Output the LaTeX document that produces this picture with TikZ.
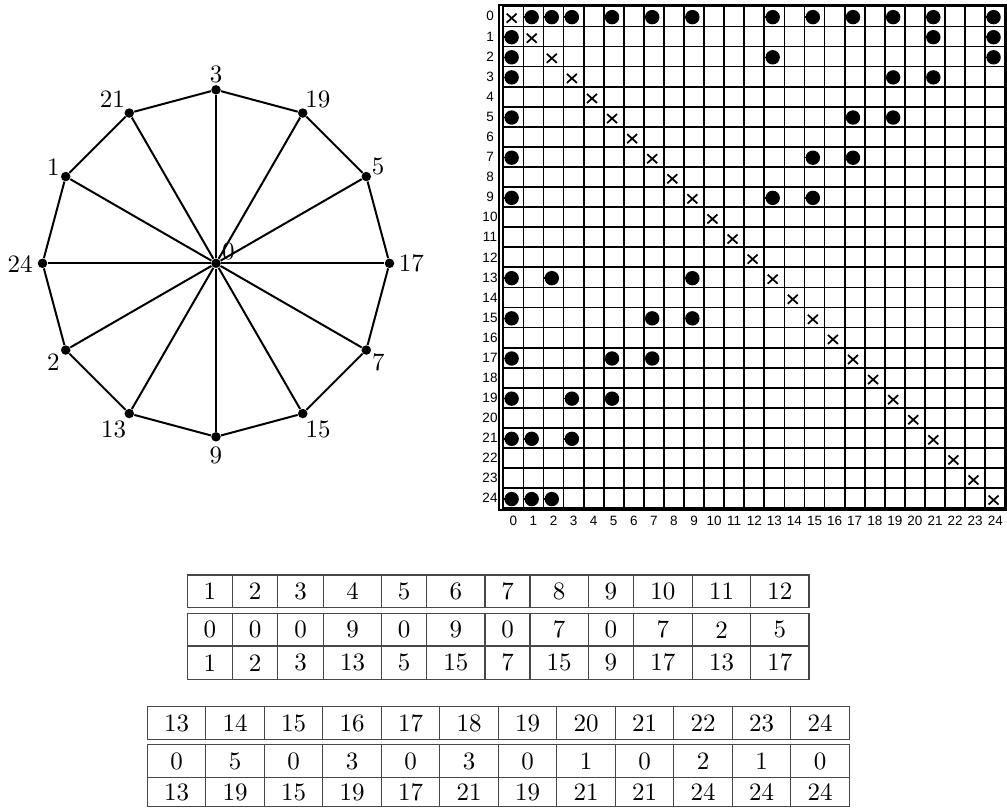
\documentclass[tikz,border=0pt]{standalone}
\usepackage{fontspec}
\newfontfamily\msans{Liberation Sans}
\begin{document}
\begin{tikzpicture}[x=0.4pt,y=-0.4pt,
  vtx/.style={circle,fill=black,inner sep=0pt,minimum size=3.8pt},
  edge/.style={line width=0.8pt},
  lbl/.style={inner sep=0pt,font=\fontsize{10}{12}\selectfont},
  gridline/.style={line width=0.7pt,line cap=rect},
  xmark/.style={line width=0.7pt},
  stub/.style={line width=0.6pt},
  mlab/.style={inner sep=0pt,font=\msans\fontsize{5.4}{6}\selectfont},
  tline/.style={draw=black!72,line width=0.55pt},
  tcell/.style={inner sep=0pt,font=\fontsize{10}{12}\selectfont}
]
\useasboundingbox (0,0) rectangle (1007,808);

% ---------------- graph ----------------
\node[vtx] (v0) at (216,263.3) {};
\foreach \n/\a in {3/90,19/60,5/30,17/0,7/-30,15/-60,9/-90,13/-120,2/-150,24/180,1/150,21/120}
  \node[vtx] (v\n) at ({216+173.5*cos(\a)},{263.3-173.5*sin(\a)}) {};
\foreach \n in {3,19,5,17,7,15,9,13,2,24,1,21}
  \draw[edge] (v0) -- (v\n);
\draw[edge] (v3) -- (v19) -- (v5) -- (v17) -- (v7) -- (v15) -- (v9) -- (v13) -- (v2) -- (v24) -- (v1) -- (v21) -- (v3);
\foreach \n/\px/\py in {3/216/74.2, 21/112.5/99, 19/317.8/99, 1/53.3/167.3, 5/378/166.8,
    24/20/263.8, 17/411.3/263.8, 0/228.3/251.7, 2/53.5/361.7, 7/378.3/362.5,
    13/113.5/429.7, 15/318/429.7, 9/215.8/455}
  \node[lbl] (l\n) at (\px,\py) {\n};

% ---------------- adjacency matrix ----------------
\def\mx{503.3}
\def\my{6.3}
\def\mc{20.08}
\foreach \k in {0,...,25} {
  \draw[gridline] ({\mx+\k*\mc},\my) -- ({\mx+\k*\mc},{\my+25*\mc});
  \draw[gridline] (\mx,{\my+\k*\mc}) -- ({\mx+25*\mc},{\my+\k*\mc});
}
\draw[gridline] (499,5) rectangle (1006,509.8);
\foreach \k in {0,...,24} {
  \node[mlab] (r\k) at (490,{\my+(\k+0.5)*\mc}) {\k};
  \node[mlab] (c\k) at ({\mx+(\k+0.5)*\mc},521) {\k};
  \pgfmathsetmacro\cx{\mx+(\k+0.5)*\mc-1.7}
  \pgfmathsetmacro\cy{\my+(\k+0.5)*\mc+1.8}
  \draw[xmark] ({\cx-5},{\cy-4.5}) -- ({\cx+5},{\cy+4.5}) ({\cx-5},{\cy+4.5}) -- ({\cx+5},{\cy-4.5});
}
\foreach \a/\b in {0/1,0/2,0/3,0/5,0/7,0/9,0/13,0/15,0/17,0/19,0/21,0/24,
    3/19,19/5,5/17,17/7,7/15,15/9,9/13,13/2,2/24,24/1,1/21,21/3} {
  \foreach \r/\c in {\a/\b,\b/\a} {
    \pgfmathsetmacro\cx{\mx+(\c+0.5)*\mc-1.7}
    \pgfmathsetmacro\cy{\my+(\r+0.5)*\mc+0.8}
    \draw[stub] ({\mx+\c*\mc},\cy) -- (\cx,\cy);
    \fill (\cx,\cy) circle[radius=7.2];
  }
}

% ---------------- table 1 ----------------
\draw[tline] (187.3,575) rectangle (809,607.3);
\draw[tline] (187.3,613.3) rectangle (809,679.5);
\draw[tline] (187.3,646) -- (809,646);
\foreach \l/\r/\p/\q/\s [count=\i] in {187.3/232.3/1/0/1, 232.3/277.7/2/0/2,
    277.7/323.3/3/0/3, 323.3/381.7/4/9/13, 381.7/426.7/5/0/5, 426.7/485/6/9/15,
    485/530/7/0/7, 530/588.3/8/7/15, 588.3/633.3/9/0/9, 633.3/692.3/10/7/17,
    692.3/750.7/11/2/13, 750.7/809/12/5/17} {
  \node[tcell] (ta\i) at ({(\l+\r)/2},591.2) {\p};
  \node[tcell] (tb\i) at ({(\l+\r)/2},629.7) {\q};
  \node[tcell] (tc\i) at ({(\l+\r)/2},662.8) {\s};
  \draw[tline] (\r,575) -- (\r,607.3) (\r,613.3) -- (\r,679.5);
}

% ---------------- table 2 ----------------
\draw[tline] (147.3,706.7) rectangle (849.3,739.3);
\draw[tline] (147.3,744.3) rectangle (849.3,806.5);
\draw[tline] (147.3,777.7) -- (849.3,777.7);
\foreach \p/\q/\s [count=\i from 0] in {13/0/13, 14/5/19, 15/0/15, 16/3/19, 17/0/17,
    18/3/21, 19/0/19, 20/1/21, 21/0/21, 22/2/24, 23/1/24, 24/0/24} {
  \pgfmathsetmacro\lx{147.3+58.5*\i}
  \node[tcell] (td\i) at ({\lx+29.25},723) {\p};
  \node[tcell] (te\i) at ({\lx+29.25},761) {\q};
  \node[tcell] (tf\i) at ({\lx+29.25},792) {\s};
  \draw[tline] ({\lx+58.5},706.7) -- ({\lx+58.5},739.3) ({\lx+58.5},744.3) -- ({\lx+58.5},806.5);
}
\end{tikzpicture}
\end{document}
